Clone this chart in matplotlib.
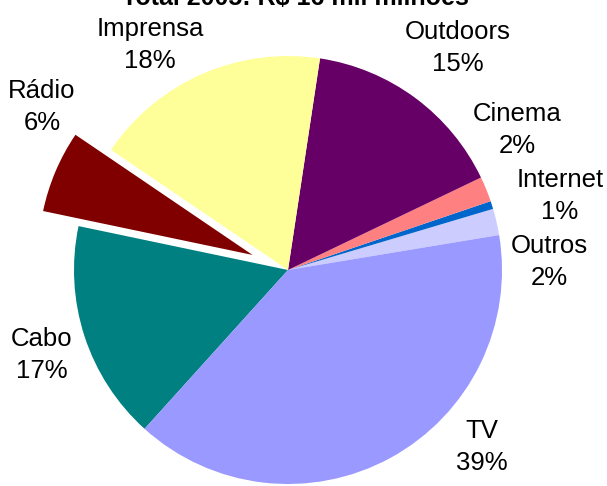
import matplotlib
matplotlib.use("Agg")
import matplotlib.pyplot as plt

categories = ["Outros", "Internet", "Cinema", "Outdoors", "Imprensa", "Rádio", "Cabo", "TV"]
values = [2.0, 0.6, 1.9, 15.5, 17.9, 6.2, 16.6, 39.3]
pct_labels = ["2%", "1%", "2%", "15%", "18%", "6%", "17%", "39%"]
colors = ["#CCCCFF", "#0066CC", "#FF8080", "#660066", "#FFFF99", "#800000", "#008080", "#9999FF"]
explode = [0, 0, 0, 0, 0, 0.18, 0, 0]
title = "Total 2005: R$ 16 mil milhões"

# label positions (data units, pie radius = 1)
label_pos = {
    "Outros": (1.22, 0.037),
    "Internet": (1.271, 0.345),
    "Cinema": (1.070, 0.654),
    "Outdoors": (0.794, 1.037),
    "Imprensa": (-0.645, 1.051),
    "Rádio": (-1.150, 0.762),
    "Cabo": (-1.150, -0.397),
    "TV": (0.907, -0.827),
}

plt.rcParams['font.family'] = ['Liberation Sans', 'DejaVu Sans']

W, H = 607, 486
fig = plt.figure(figsize=(W / 100, H / 100), dpi=100)
ax = fig.add_axes([0, 0, 1, 1])
cx, cy, r = 288, 270, 214
ax.pie(values, colors=colors, explode=explode, startangle=9.4, counterclock=True,
       radius=1, wedgeprops=dict(linewidth=0))
ax.set_aspect('auto')
ax.set_xlim(-cx / r, (W - cx) / r)
ax.set_ylim(-(H - cy) / r, cy / r)
ax.axis('off')

for cat, pct in zip(categories, pct_labels):
    x, y = label_pos[cat]
    ax.text(x, y, f"{cat}\n{pct}", ha='center', va='center', fontsize=18.5,
            linespacing=1.4, color='black')

fig.text(0.486, 1 - 5 / H, title, ha='center', va='baseline', fontsize=18,
         fontweight='bold')

fig.savefig("out.png", dpi=100)
